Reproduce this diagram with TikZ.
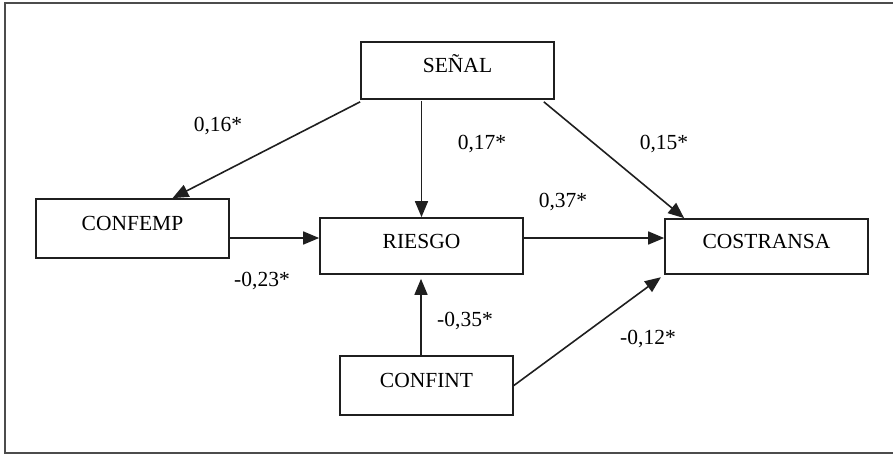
\documentclass[tikz,border=0pt]{standalone}
\usepackage{fontspec}
\setmainfont{Liberation Serif}
\usetikzlibrary{arrows.meta}

\begin{document}
\begin{tikzpicture}[
  x=1pt, y=-1pt,
  box/.style={rectangle, draw=black!88, line width=1.7pt, text height=14pt, text depth=10pt, inner sep=0pt},
  link/.style={-{Triangle[length=16pt,width=13pt]}, line width=1.6pt, draw=black!88},
  coef/.style={anchor=base, inner sep=0pt},
  font=\fontsize{21.5}{25}\selectfont
]
\useasboundingbox (0,0) rectangle (893,455);
\draw[black!70, line width=1.4pt] (893,3) -- (5,3) -- (5,453) -- (893,453);

\node[box, minimum width=193pt, minimum height=57pt] (senal) at (457.5,70.5) {SEÑAL};
\node[box, minimum width=193pt, minimum height=59pt] (confemp) at (132.5,228.5) {CONFEMP};
\node[box, minimum width=203pt, minimum height=56pt] (riesgo) at (421.5,246) {RIESGO};
\node[box, minimum width=203pt, minimum height=55pt] (costransa) at (766.5,246.5) {COSTRANSA};
\node[box, minimum width=173pt, minimum height=59pt] (confint) at (426.5,385.5) {CONFINT};

\node[coef] (c16) at (218,131) {0,16*};
\node[coef] (c17) at (482,149) {0,17*};
\node[coef] (c15) at (664,149) {0,15*};
\node[coef] (c37) at (563,207) {0,37*};
\node[coef] (c23) at (262,286) {-0,23*};
\node[coef] (c35) at (465,326) {-0,35*};
\node[coef] (c12) at (648,344) {-0,12*};

\draw[link] ([yshift=-2pt]senal.south west) -- ([xshift=40pt]confemp.north);
\draw[link] ([yshift=-1pt]senal.south -| riesgo.north) -- (riesgo.north);
\draw[link] ([xshift=-11pt,yshift=-2pt]senal.south east) -- ([xshift=20pt]costransa.north west);
\draw[link] ([yshift=-9.5pt]confemp.east) -- ([yshift=8pt]riesgo.west);
\draw[link] ([yshift=8pt]riesgo.east) -- ([yshift=8.5pt]costransa.west);
\draw[link, shorten >=4pt] ([xshift=-5.5pt]confint.north) -- ([xshift=-0.5pt]riesgo.south);
\draw[link, shorten >=4pt] (confint.east) -- (costransa.south west);
\end{tikzpicture}
\end{document}
